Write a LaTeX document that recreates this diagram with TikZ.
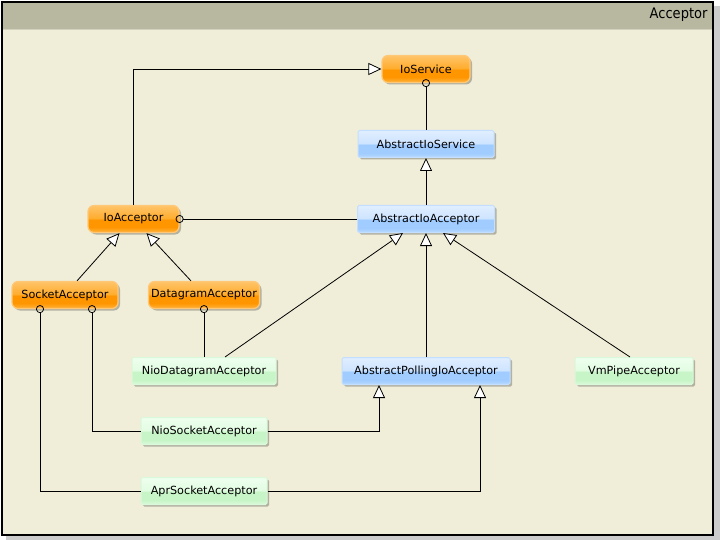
\documentclass[tikz,border=0pt]{standalone}
\usepackage{fontspec}
\setmainfont{DejaVu Sans}
\newfontfamily\titlefont{DejaVu Sans Condensed}
\usetikzlibrary{arrows.meta,shadows}

\definecolor{canvas}{RGB}{240,238,216}
\definecolor{headbar}{RGB}{184,184,160}
\definecolor{headline}{RGB}{210,210,190}
\definecolor{ot2}{RGB}{255,196,105}
\definecolor{ot1}{RGB}{255,172,45}
\definecolor{ob1}{RGB}{255,150,0}
\definecolor{ob2}{RGB}{255,178,60}
\definecolor{oline}{RGB}{255,200,120}
\definecolor{bt2}{RGB}{224,238,255}
\definecolor{bt1}{RGB}{206,228,255}
\definecolor{bb1}{RGB}{160,204,255}
\definecolor{bb2}{RGB}{186,219,255}
\definecolor{bline}{RGB}{196,222,255}
\definecolor{gt2}{RGB}{238,255,238}
\definecolor{gt1}{RGB}{226,252,226}
\definecolor{gb1}{RGB}{200,245,200}
\definecolor{gb2}{RGB}{218,250,218}
\definecolor{gline}{RGB}{218,248,218}
\pgfdeclareverticalshading{orangegloss}{100bp}{color(0bp)=(ob2); color(25bp)=(ob2); color(35bp)=(ob1); color(49bp)=(ob1); color(51bp)=(ot1); color(75bp)=(ot2); color(100bp)=(ot2)}
\pgfdeclareverticalshading{bluegloss}{100bp}{color(0bp)=(bb2); color(25bp)=(bb2); color(33bp)=(bb1); color(49bp)=(bb1); color(51bp)=(bt1); color(75bp)=(bt2); color(100bp)=(bt2)}
\pgfdeclareverticalshading{greengloss}{100bp}{color(0bp)=(gb2); color(25bp)=(gb2); color(33bp)=(gb1); color(49bp)=(gb1); color(51bp)=(gt1); color(75bp)=(gt2); color(100bp)=(gt2)}

\begin{document}
\begin{tikzpicture}[x=1pt,y=-1pt,
    box/.style={font=\fontsize{11.2}{13}\selectfont, inner sep=0pt, minimum height=27pt,
        drop shadow={shadow xshift=2pt, shadow yshift=-2pt, opacity=0.25, fill=black}},
    iface/.style={box, rounded corners=6pt, shading=orangegloss, draw=oline, line width=1.2pt},
    absclass/.style={box, rounded corners=1.5pt, shading=bluegloss, draw=bline, line width=1pt},
    implclass/.style={box, rounded corners=1.5pt, shading=greengloss, draw=gline, line width=1pt},
    link/.style={line width=0.8pt},
    realize/.style={link, -{Triangle[fill=white, length=13pt, width=12pt, line width=0.8pt]}},
    provide/.style={link, {Circle[open, length=8pt, line width=0.8pt]}-, shorten <=-4pt}]
    \useasboundingbox (0,0) rectangle (720,540);
    \fill[black!20] (6,6) rectangle (720,540);
    \fill[canvas] (2,2) rectangle (713,535);
    \fill[headbar] (2,2) rectangle (713,29);
    \draw[line width=1pt, headline] (2,29.5) -- (713,29.5);
    \draw[line width=1.6pt] (2,2) rectangle (713,535);
    \node[anchor=east, font=\titlefont\fontsize{14.5}{16}\selectfont] (title) at (711,15) {Acceptor};

    \node[iface, minimum width=88pt] (ioservice) at (426,69) {IoService};
    \node[absclass, minimum width=136pt] (absioservice) at (426,144) {AbstractIoService};
    \node[absclass, minimum width=137pt] (absioacceptor) at (426,219) {AbstractIoAcceptor};
    \node[iface, minimum width=91pt] (ioacceptor) at (133.5,219) {IoAcceptor};
    \node[iface, minimum width=106pt] (socketacceptor) at (65,295) {SocketAcceptor};
    \node[iface, minimum width=111pt] (datagramacceptor) at (204,295) {DatagramAcceptor};
    \node[implclass, minimum width=144pt] (niodatagram) at (204,371) {NioDatagramAcceptor};
    \node[absclass, minimum width=168pt] (abspolling) at (426,371) {AbstractPollingIoAcceptor};
    \node[implclass, minimum width=118pt] (vmpipe) at (634,371) {VmPipeAcceptor};
    \node[implclass, minimum width=126pt] (niosocket) at (204,431) {NioSocketAcceptor};
    \node[implclass, minimum width=126pt] (aprsocket) at (204,491) {AprSocketAcceptor};

    \draw[realize] (ioacceptor.north) |- (ioservice.west);
    \draw[provide] (ioservice.south) -- (absioservice.north);
    \draw[realize] (absioacceptor.north) -- (absioservice.south);
    \draw[provide] (ioacceptor.east) -- (absioacceptor.west);
    \draw[realize] ([xshift=12pt]socketacceptor.north) -- ([xshift=-14pt]ioacceptor.south);
    \draw[realize] ([xshift=-13pt]datagramacceptor.north) -- ([xshift=13pt]ioacceptor.south);
    \draw[provide] (datagramacceptor.south) -- (niodatagram.north);
    \draw[realize] ([xshift=21pt]niodatagram.north) -- ([xshift=-23pt]absioacceptor.south);
    \draw[realize] (abspolling.north) -- (absioacceptor.south);
    \draw[realize] ([xshift=-4pt]vmpipe.north) -- ([xshift=17pt]absioacceptor.south);
    \draw[provide] ([xshift=27pt]socketacceptor.south) |- (niosocket.west);
    \draw[realize] (niosocket.east) -| ([xshift=-47pt]abspolling.south);
    \draw[provide] ([xshift=-25pt]socketacceptor.south) |- (aprsocket.west);
    \draw[realize] (aprsocket.east) -| ([xshift=54pt]abspolling.south);
\end{tikzpicture}
\end{document}
